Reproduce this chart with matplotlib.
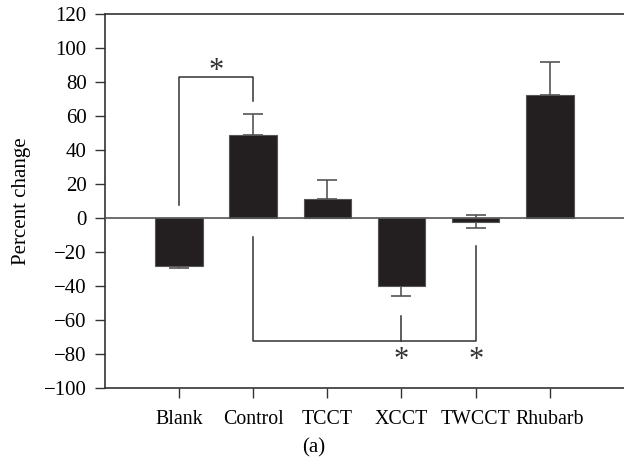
import matplotlib.pyplot as plt

# data
groups = ["Blank", "Control", "TCCT", "XCCT", "TWCCT", "Rhubarb"]
means = [-28, 49, 11.5, -40, -2.5, 72.5]
err_low = [1.6, 0, 0, 6, 3.3, 0]
err_high = [0, 12, 11, 0, 4.3, 19.5]

# significance brackets: (x indices, top/bottom level, leg ends)
upper_pair = [0, 1]
upper_level = 83
upper_legs = [7.5, 69]
lower_pair = [1, 4]
lower_level = -72
lower_legs = [-11, -16.5]
lower_mid = 3
lower_mid_top = -57.5
star_up = 86
star_low = -84

plt.rcParams["font.family"] = ["Liberation Serif", "DejaVu Serif"]
plt.rcParams["font.size"] = 15

fig = plt.figure(figsize=(6.24, 4.66), dpi=100)
ax = fig.add_axes([0.168, 0.167, 0.832, 0.803])

x = list(range(1, len(groups) + 1))
ax.bar(x, means, width=0.64, color="#231f20", edgecolor="#555555", linewidth=0.8, zorder=3)
ax.errorbar(x, means, yerr=[err_low, err_high], fmt="none", ecolor="#555555",
            elinewidth=1.2, capsize=7, capthick=1.2, zorder=2)
ax.axhline(0, color="#555555", linewidth=1.2, zorder=4)

line_kw = dict(color="#333333", linewidth=1.1)
star_kw = dict(ha="center", va="center", fontsize=22, color="#333333")
# Blank vs Control
xa, xb = x[upper_pair[0]], x[upper_pair[1]]
ax.plot([xa, xa, xb, xb], [upper_legs[0], upper_level, upper_level, upper_legs[1]], **line_kw)
ax.text((xa + xb) / 2, star_up, "*", **star_kw)
# Control vs XCCT / TWCCT
xa, xb = x[lower_pair[0]], x[lower_pair[1]]
ax.plot([xa, xa, xb, xb], [lower_legs[0], lower_level, lower_level, lower_legs[1]], **line_kw)
ax.plot([x[lower_mid], x[lower_mid]], [lower_mid_top, lower_level], **line_kw)
ax.text(x[lower_mid], star_low, "*", **star_kw)
ax.text(xb, star_low, "*", **star_kw)

ax.set_xlim(0, 7)
ax.set_ylim(-100, 120)
ax.set_yticks(range(-100, 121, 20))
ax.set_yticklabels([str(v).replace("-", "\u2212") for v in range(-100, 121, 20)])
ax.set_xticks(x)
ax.set_xticklabels(groups, fontsize=14.3)
ax.tick_params(direction="out", length=7, width=1, color="#333333", pad=6)
ax.tick_params(axis="x", pad=9)
ax.spines["right"].set_visible(False)
for s in ["left", "bottom", "top"]:
    ax.spines[s].set_color("#333333")
    ax.spines[s].set_linewidth(1.2)

ax.set_ylabel("Percent change")
ax.yaxis.set_label_coords(-0.142, 0.5)
fig.text(0.503, 0.04, "(a)", ha="center", va="center", fontsize=15)

fig.savefig("out.png", dpi=100)
